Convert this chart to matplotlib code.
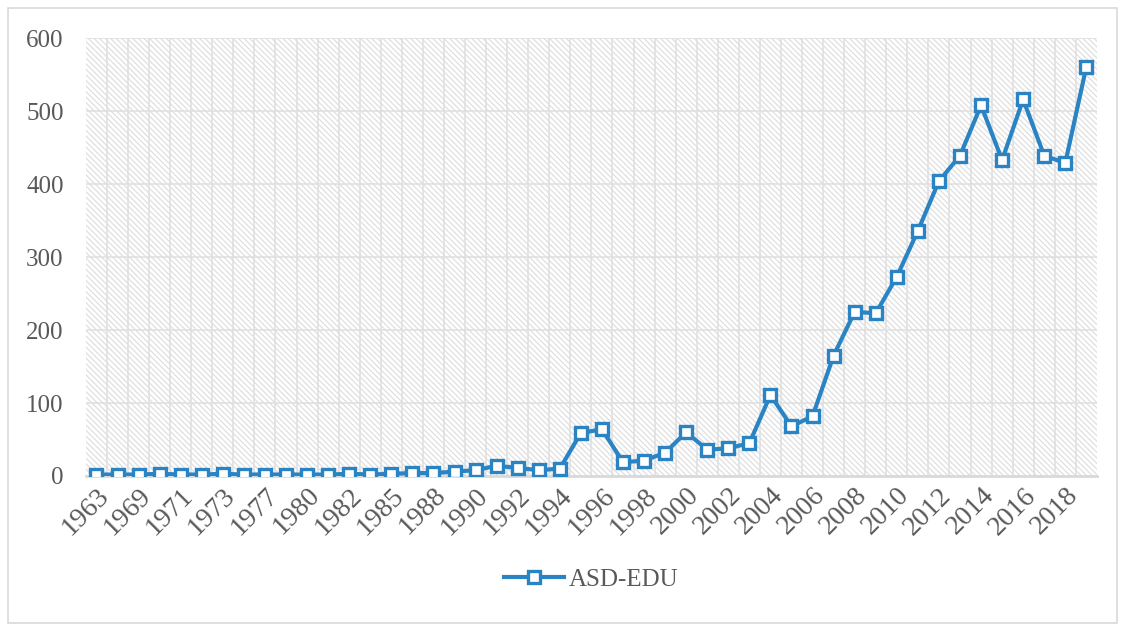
import matplotlib.pyplot as plt
from matplotlib.patches import Rectangle

plt.rcParams['font.family'] = ['Liberation Serif', 'DejaVu Serif']
plt.rcParams['hatch.color'] = '#d9d9d9'
plt.rcParams['hatch.linewidth'] = 0.8

# publication counts per year (years with no publications are skipped)
years = ['1963', '1966', '1969', '1970', '1971', '1972', '1973', '1976',
         '1977', '1979', '1980', '1981', '1982', '1984', '1985', '1987',
         '1988', '1989'] + [str(y) for y in range(1990, 2020)]
asd_edu = [2, 2, 2, 3, 2, 2, 3, 2, 2, 2, 2, 2, 3, 2, 3, 4, 4, 6,
           8, 14, 11, 8, 10, 59, 64, 19, 21, 32, 60, 36, 38, 45,
           111, 68, 82, 165, 225, 223, 273, 336, 404, 439, 508, 433,
           516, 439, 429, 561]
series_name = 'ASD-EDU'

text_color = '#595959'
line_color = '#2a84c4'

fig = plt.figure(figsize=(11.25, 6.25), dpi=100)
ax = fig.add_axes([0.0764, 0.2384, 0.8986, 0.7005])

# outer chart border
fig.patches.append(Rectangle((8 / 1125, 2 / 625), 1109 / 1125, 615 / 625,
                             transform=fig.transFigure, fill=False,
                             edgecolor='#d9d9d9', linewidth=1.2))

# hatched plot background
ax.add_patch(Rectangle((0, 0), 1, 1, transform=ax.transAxes, facecolor='white',
                       edgecolor='#dcdcdc', hatch='\\\\\\\\\\\\', linewidth=0, zorder=0))

x = list(range(len(years)))
ax.plot(x, asd_edu, color=line_color, linewidth=3, marker='s', markersize=9,
        markerfacecolor='white', markeredgecolor=line_color, markeredgewidth=2.4,
        label=series_name, zorder=3)

ax.set_xlim(-0.5, len(years) - 0.5)
ax.set_ylim(0, 600)
ax.set_yticks(range(0, 601, 100))
ax.set_xticks(x[::2])
ax.set_xticklabels(years[::2], rotation=45, ha='right', rotation_mode='anchor')

for yv in range(100, 601, 100):
    ax.axhline(yv, color='#e0e0e0', linewidth=1.2, zorder=1)
for xv in x[:-1]:
    ax.axvline(xv + 0.5, color='#e0e0e0', linewidth=1.2, zorder=1)

for side in ['top', 'right', 'left']:
    ax.spines[side].set_visible(False)
ax.spines['bottom'].set_color('#d9d9d9')
ax.spines['bottom'].set_linewidth(2)
ax.spines['bottom'].set_zorder(2)

ax.tick_params(axis='y', length=0, colors=text_color, labelsize=18, pad=16)
ax.tick_params(axis='x', length=0, colors=text_color, labelsize=20, pad=5)

leg = ax.legend(loc='upper center', bbox_to_anchor=(0.5, -0.16), frameon=False,
                fontsize=18, handlelength=2.4, handletextpad=0.2)
for t in leg.get_texts():
    t.set_color(text_color)

fig.savefig('out.png', dpi=100)
